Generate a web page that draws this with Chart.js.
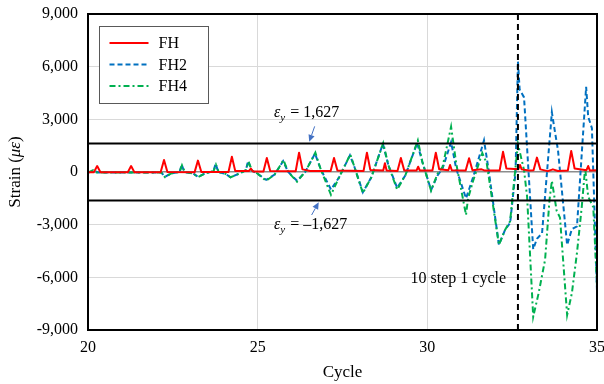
<!DOCTYPE html>
<html>
<head>
<meta charset="utf-8">
<script src="https://cdn.jsdelivr.net/npm/chart.js@4/dist/chart.umd.min.js"></script>
<style>
html,body{margin:0;padding:0;background:#fff;}
#wrap{width:604px;height:384px;position:relative;}
</style>
</head>
<body>
<div id="wrap"><canvas id="c" width="604" height="384"></canvas></div>
<script>
// ---- data ----
const seriesNames = ['FH', 'FH2', 'FH4'];
const yTickValues = [-9000, -6000, -3000, 0, 3000, 6000, 9000];
const yTickLabels = ['-9,000', '-6,000', '-3,000', '0', '3,000', '6,000', '9,000'];
const xTickLabels = ['20', '25', '30', '35'];

const fhCycle = [20.00,20.17,20.27,20.37,21.17,21.27,21.37,22.14,22.24,22.34,23.14,23.24,23.34,24.14,24.24,24.34,24.74,24.80,24.86,25.17,25.27,25.37,26.12,26.22,26.32,26.55,27.15,27.25,27.35,28.12,28.22,28.32,28.70,28.75,28.80,29.12,29.22,29.32,29.68,29.73,29.78,30.15,30.25,30.35,30.62,30.67,30.72,31.13,31.23,31.33,31.60,31.70,32.13,32.23,32.33,32.68,32.73,32.78,33.00,33.13,33.23,33.33,33.55,33.70,33.85,34.14,34.24,34.34,34.69,34.74,34.79,35.00];
const fhStrain = [-20,-20,340,-20,-20,340,-20,-20,680,0,-20,650,0,0,870,50,50,200,30,30,800,60,40,1100,150,60,60,800,80,60,1100,120,80,500,80,60,800,80,80,300,80,80,1100,150,100,400,100,80,780,100,150,80,80,1150,200,150,400,150,80,100,820,150,50,150,60,80,1200,200,100,340,80,100];

const fh2Cycle = [20.00,20.20,20.30,22.16,22.27,22.45,22.70,22.76,22.84,23.10,23.24,23.45,23.70,23.76,23.84,24.05,24.20,24.45,24.65,24.72,24.82,25.00,25.25,25.50,25.75,25.90,26.16,26.40,26.69,26.85,27.16,27.40,27.72,27.85,28.10,28.35,28.69,28.85,29.11,29.35,29.70,29.85,30.11,30.30,30.45,30.70,30.85,31.14,31.35,31.67,31.80,32.11,32.29,32.44,32.60,32.67,32.72,32.85,33.12,33.23,33.38,33.67,33.76,33.85,34.12,34.26,34.41,34.68,34.74,34.85,35.00];
const fh2Strain = [-30,60,-30,-30,-280,-80,0,420,0,-80,-280,-80,50,480,0,-100,-300,-100,100,630,100,-100,-450,-150,620,0,-500,0,1050,200,-1000,-300,950,300,-1150,-300,1600,400,-900,-200,1650,600,-1030,-200,200,1700,200,-1500,-300,1800,200,-4150,-3300,-2900,0,6300,4700,4250,-4400,-3800,-3500,3400,2300,1250,-4150,-3250,-3100,4850,3150,2500,-6800];

const fh4Cycle = [20.00,20.15,20.25,22.16,22.27,22.45,22.70,22.77,22.85,23.10,23.24,23.45,23.70,23.77,23.85,24.05,24.20,24.45,24.65,24.73,24.83,25.00,25.25,25.50,25.76,25.90,26.16,26.40,26.70,26.85,27.16,27.40,27.73,27.85,28.10,28.35,28.70,28.85,29.11,29.35,29.72,29.85,30.11,30.30,30.45,30.70,30.85,31.14,31.20,31.35,31.62,31.75,32.11,32.29,32.44,32.60,32.67,32.85,32.94,33.12,33.28,33.47,33.60,33.67,33.81,33.91,34.12,34.26,34.41,34.55,34.65,34.74,34.89,35.00];
const fh4Strain = [-30,100,-30,-30,-300,-80,0,380,0,-80,-300,-80,50,420,0,-100,-300,-100,100,580,100,-100,-500,-150,680,0,-550,0,1100,200,-1300,-300,1000,300,-1200,-300,1650,400,-1000,-200,1800,600,-1065,-100,300,2580,500,-2450,-1500,-500,1080,500,-4150,-3300,-2800,300,1600,100,-1400,-8250,-6900,-5000,-1600,-500,-2200,-2600,-8150,-6900,-4600,-2000,230,-1400,-2000,-6500];

const yieldStrain = 1627;
const stepCycle = 32.67;
const xRange = [20, 35];
const yRange = [-9000, 9000];

// ---- build ----
const toPts = (xs, ys) => xs.map((x, i) => ({x: x, y: ys[i]}));
const SERIF = "'Liberation Serif','Times New Roman',serif";

const datasets = [
  {label: seriesNames[0], data: toPts(fhCycle, fhStrain), borderColor: '#FF0000', borderWidth: 2, pointRadius: 0, tension: 0, borderJoinStyle: 'round', order: 3},
  {label: seriesNames[1], data: toPts(fh2Cycle, fh2Strain), borderColor: '#0070C0', borderWidth: 2, borderDash: [5, 3], pointRadius: 0, tension: 0, order: 5},
  {label: seriesNames[2], data: toPts(fh4Cycle, fh4Strain), borderColor: '#00B050', borderWidth: 2, borderDash: [6, 3, 2, 3], pointRadius: 0, tension: 0, order: 4},
  {label: 'ey+', data: toPts(xRange, [yieldStrain, yieldStrain]), borderColor: '#000', borderWidth: 2, pointRadius: 0, order: 1},
  {label: 'ey-', data: toPts(xRange, [-yieldStrain, -yieldStrain]), borderColor: '#000', borderWidth: 2, pointRadius: 0, order: 1},
  {label: 'step', data: toPts([stepCycle, stepCycle], yRange), borderColor: '#000', borderWidth: 2, borderDash: [6, 4], pointRadius: 0, order: 2}
];

function arrow(ctx, x1, y1, x2, y2, color) {
  ctx.save();
  ctx.strokeStyle = color; ctx.fillStyle = color; ctx.lineWidth = 1;
  const a = Math.atan2(y2 - y1, x2 - x1);
  const hl = 7, hw = 3.2;
  const bx = x2 - hl * Math.cos(a), by = y2 - hl * Math.sin(a);
  ctx.beginPath(); ctx.moveTo(x1, y1); ctx.lineTo(bx, by); ctx.stroke();
  ctx.beginPath();
  ctx.moveTo(x2, y2);
  ctx.lineTo(bx + hw * Math.sin(a), by - hw * Math.cos(a));
  ctx.lineTo(bx - hw * Math.sin(a), by + hw * Math.cos(a));
  ctx.closePath(); ctx.fill();
  ctx.restore();
}

function epsLabel(ctx, x, y, rest) {
  ctx.save();
  ctx.fillStyle = '#000';
  ctx.textBaseline = 'alphabetic';
  ctx.textAlign = 'left';
  ctx.font = 'italic 16px ' + SERIF;
  ctx.fillText('ε', x, y);
  let w = ctx.measureText('ε').width;
  ctx.font = 'italic 11px ' + SERIF;
  ctx.fillText('y', x + w, y + 4);
  w += ctx.measureText('y').width;
  ctx.font = '16px ' + SERIF;
  ctx.fillText(rest, x + w + 1, y);
  ctx.restore();
}

const decor = {
  id: 'decor',
  afterDatasetsDraw(chart) {
    const ctx = chart.ctx, a = chart.chartArea;
    const xs = chart.scales.x, ys = chart.scales.y;
    // frame
    ctx.save();
    ctx.strokeStyle = '#000'; ctx.lineWidth = 2;
    ctx.strokeRect(a.left, a.top, a.right - a.left, a.bottom - a.top);
    ctx.restore();
    // legend
    const lx = a.left + 11.5, ly = a.top + 12.5, lw = 109, lh = 77;
    ctx.save();
    ctx.fillStyle = '#fff'; ctx.fillRect(lx, ly, lw, lh);
    ctx.strokeStyle = '#595959'; ctx.lineWidth = 1; ctx.strokeRect(lx, ly, lw, lh);
    const rows = [datasets[0], datasets[1], datasets[2]];
    rows.forEach((d, i) => {
      const yy = ly + 16.5 + i * 21.5;
      ctx.strokeStyle = d.borderColor; ctx.lineWidth = 2;
      ctx.setLineDash(d.borderDash || []);
      ctx.beginPath(); ctx.moveTo(lx + 10, yy); ctx.lineTo(lx + 49, yy); ctx.stroke();
      ctx.setLineDash([]);
      ctx.fillStyle = '#000'; ctx.font = '16px ' + SERIF;
      ctx.textBaseline = 'middle'; ctx.textAlign = 'left';
      ctx.fillText(d.label, lx + 59, yy + 1);
    });
    ctx.restore();
    // yield annotations
    epsLabel(ctx, xs.getPixelForValue(25.48), ys.getPixelForValue(3150), ' = 1,627');
    epsLabel(ctx, xs.getPixelForValue(25.48), ys.getPixelForValue(-3250), ' = \u20131,627');
    arrow(ctx, xs.getPixelForValue(26.68), ys.getPixelForValue(2600), xs.getPixelForValue(26.52), ys.getPixelForValue(1720), '#4472C4');
    arrow(ctx, xs.getPixelForValue(26.59), ys.getPixelForValue(-2450), xs.getPixelForValue(26.8), ys.getPixelForValue(-1720), '#4472C4');
    // step label
    ctx.save();
    ctx.fillStyle = '#000'; ctx.font = '16px ' + SERIF;
    ctx.textAlign = 'right'; ctx.textBaseline = 'alphabetic';
    ctx.fillText('10 step 1 cycle', xs.getPixelForValue(32.32), ys.getPixelForValue(-6300));
    ctx.restore();
    // y title
    ctx.save();
    ctx.translate(16, (a.top + a.bottom) / 2);
    ctx.rotate(-Math.PI / 2);
    ctx.fillStyle = '#000'; ctx.textBaseline = 'middle'; ctx.textAlign = 'left';
    const parts = [['Strain (', '17px '], ['με', 'italic 17px '], [')', '17px ']];
    let tot = 0;
    parts.forEach(p => { ctx.font = p[1] + SERIF; tot += ctx.measureText(p[0]).width; });
    let cx = -tot / 2;
    parts.forEach(p => { ctx.font = p[1] + SERIF; ctx.fillText(p[0], cx, 0); cx += ctx.measureText(p[0]).width; });
    ctx.restore();
  }
};

new Chart(document.getElementById('c'), {
  type: 'line',
  data: {datasets: datasets},
  options: {
    responsive: false,
    animation: false,
    layout: {padding: {top: 14, right: 7, left: 0, bottom: 0}},
    plugins: {legend: {display: false}, tooltip: {enabled: false}},
    scales: {
      x: {
        type: 'linear', min: xRange[0], max: xRange[1],
        afterFit(s) { s.height = 54; s.paddingLeft = 0; s.paddingRight = 0; },
        afterBuildTicks(s) { s.ticks = xTickLabels.map(v => ({value: Number(v)})); },
        ticks: {color: '#000', font: {family: SERIF, size: 16}, padding: 8, maxRotation: 0,
          callback: (v) => xTickLabels.find(t => Number(t) === v) || ''},
        grid: {color: '#d9d9d9', lineWidth: 1, drawTicks: false},
        border: {display: true, color: '#000', width: 2},
        title: {display: true, text: 'Cycle', color: '#000', font: {family: SERIF, size: 17}, padding: {top: 0, bottom: 1}}
      },
      y: {
        type: 'linear', min: yRange[0], max: yRange[1],
        afterFit(s) { s.width = 88; s.paddingTop = 0; s.paddingBottom = 0; },
        afterBuildTicks(s) { s.ticks = yTickValues.map(v => ({value: v})); },
        ticks: {color: '#000', font: {family: SERIF, size: 16}, padding: 10,
          callback: (v) => yTickLabels[yTickValues.indexOf(v)]},
        grid: {color: (c) => (c.tick && c.tick.value === 0) ? '#8c8c8c' : '#d9d9d9',
          lineWidth: (c) => (c.tick && c.tick.value === 0) ? 1.5 : 1, drawTicks: false},
        border: {display: true, color: '#000', width: 2}
      }
    }
  },
  plugins: [decor]
});
</script>
</body>
</html>
